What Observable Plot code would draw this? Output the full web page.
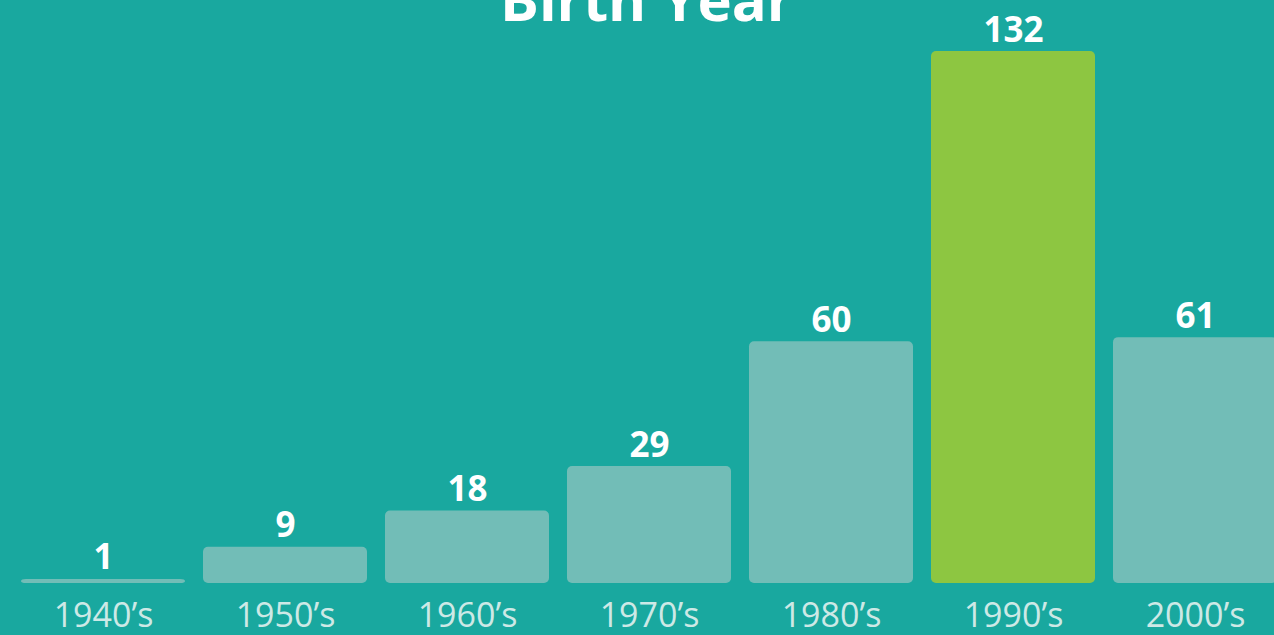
<!DOCTYPE html>
<html>
<head>
<meta charset="utf-8">
<script src="https://cdn.jsdelivr.net/npm/d3@7"></script>
<script src="https://cdn.jsdelivr.net/npm/@observablehq/plot@0.6"></script>
<style>
  html, body { margin: 0; padding: 0; background: #19a89f; overflow: hidden; width: 1274px; height: 635px; }
  #chart svg { display: block; background: #19a89f; }
</style>
</head>
<body>
<div id="chart"></div>
<script>
const title = "Birth Year";
const decades = ["1940’s", "1950’s", "1960’s", "1970’s", "1980’s", "1990’s", "2000’s"];
const counts = [1, 9, 18, 29, 60, 132, 61];
const highlight = "1990’s";

const data = decades.map((d, i) => ({decade: d, count: counts[i]}));

const chart = Plot.plot({
  width: 1274,
  height: 635,
  margin: 0,
  style: {background: "#19a89f", overflow: "hidden"},
  x: {type: "band", domain: decades, range: [11.9, 1285.9], paddingInner: 0.1, paddingOuter: 0.05, axis: null},
  y: {domain: [0, 132], range: [583, 51], axis: null},
  marks: [
    Plot.barY(data, {
      x: "decade", y: "count", rx: 5,
      fill: d => d.decade === highlight ? "#8dc641" : "#72bdb7"
    }),
    Plot.text(data, {
      x: "decade", y: "count", text: d => String(d.count),
      lineAnchor: "bottom", dy: -10,
      fill: "white", fontSize: 35, fontWeight: "bold", fontFamily: "Open Sans"
    }),
    Plot.text(data, {
      x: "decade", y: () => 0, text: "decade",
      lineAnchor: "top", dy: 19,
      fill: "#cde9e6", fontSize: 34, fontWeight: 400, fontFamily: "Open Sans",
      letterSpacing: "-3px"
    }),
    Plot.text([title], {
      frameAnchor: "top", text: d => d, lineAnchor: "bottom",
      dy: 20, dx: 9,
      fill: "white", fontSize: 58, fontWeight: "bold", fontFamily: "Open Sans"
    })
  ]
});
document.getElementById("chart").appendChild(chart);
</script>
</body>
</html>
